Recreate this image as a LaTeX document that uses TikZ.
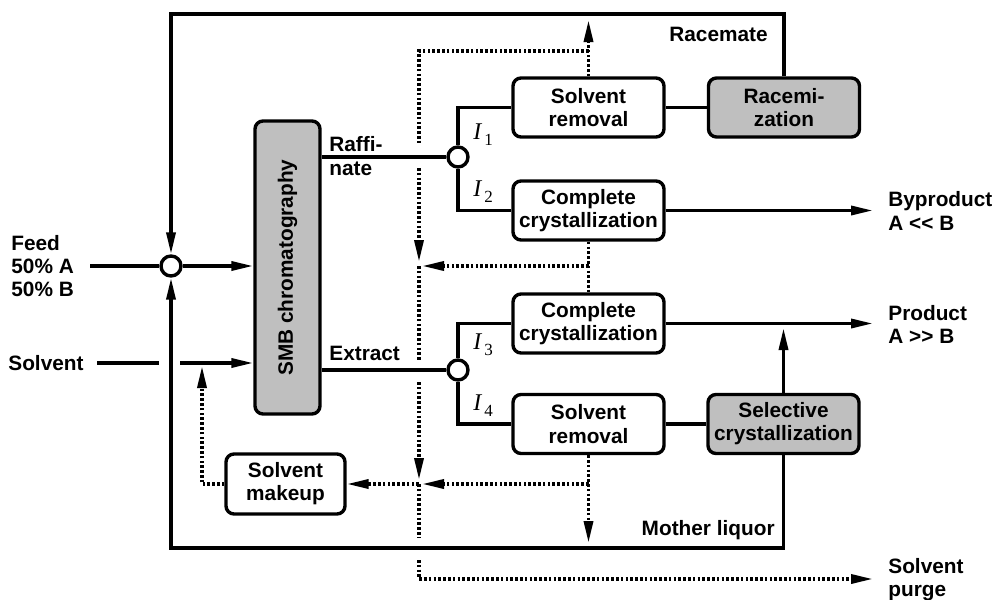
\documentclass[tikz,border=0pt]{standalone}
\usepackage{fontspec}
\setmainfont{Liberation Sans}
\newfontfamily\idxfont{Liberation Serif}
\usetikzlibrary{arrows.meta}

\definecolor{unitgray}{gray}{0.75}

\newcommand{\intn}[1]{{\idxfont\mdseries\itshape\fontsize{12}{12}\selectfont I}\kern1.5pt\raisebox{-3pt}{\idxfont\mdseries\fontsize{8.5}{9}\selectfont #1}}

\tikzset{
	unit/.style={draw, line width=1.7pt, rounded corners=4pt, align=center, fill=white,
		minimum width=75.5pt, minimum height=29.5pt, inner sep=1pt},
	active/.style={unit, fill=unitgray},
	split/.style={draw, circle, line width=1.7pt, fill=white, minimum size=10pt, inner sep=0pt},
	stream/.style={line width=1.7pt},
	solv/.style={line width=1.7pt, dash pattern=on 1.3pt off 1.1pt},
	tag/.style={inner sep=0pt, align=left}
}

\begin{document}
\begin{tikzpicture}[x=0.5pt, y=-0.5pt,
	>={Triangle[length=11pt,width=4.5pt]},
	every node/.style={font=\fontsize{10.4}{11.6}\selectfont\bfseries}]
	\useasboundingbox (0,0) rectangle (992,600);

	% process units
	\node [active, minimum width=32.5pt, minimum height=146.5pt] (smb) at (287.5,267.5)
		{\rotatebox{90}{SMB chromatography}};
	\node [unit] (rem1) at (588.5,107.5) {Solvent\\removal};
	\node [active] (racem) at (784,107.5) {Racemi-\\zation};
	\node [unit] (cryst1) at (588.5,210.5) {Complete\\crystallization};
	\node [unit] (cryst2) at (588.5,323.5) {Complete\\crystallization};
	\node [unit] (rem2) at (588.5,424) {Solvent\\removal};
	\node [active] (selcryst) at (783.5,424) {Selective\\crystallization};
	\node [unit, minimum width=59.5pt, minimum height=30pt] (makeup) at (285.5,484)
		{Solvent\\makeup};

	\node [split] (mix) at (171,266) {};
	\node [split] (raffsplit) at (458,157) {};
	\node [split] (extrsplit) at (458,370) {};

	% labels
	\node [tag, anchor=west] (feed) at (11,266) {Feed\\50\% A\\50\% B};
	\node [tag, anchor=west] (solvent) at (8,363) {Solvent};
	\node [tag, anchor=west] (raff) at (329,156) {Raffi-\\nate};
	\node [tag, anchor=west] (extract) at (329,353) {Extract};
	\node [tag] (racemate) at (718.5,34) {Racemate};
	\node [tag, anchor=east] (liquor) at (775,530) {Mother liquor};
	\node [tag, anchor=west] (byprod) at (888,211) {Byproduct\\A <\kern0pt< B};
	\node [tag, anchor=west] (prod) at (888,324.5) {Product\\A >\kern0pt> B};
	\node [tag, anchor=west] (purge) at (888,580) {Solvent\\purge};

	\node [inner sep=0pt, anchor=west] (i1) at (473,135) {\intn{1}};
	\node [inner sep=0pt, anchor=west] (i2) at (473,192) {\intn{2}};
	\node [inner sep=0pt, anchor=west] (i3) at (473,345) {\intn{3}};
	\node [inner sep=0pt, anchor=west] (i4) at (473,406) {\intn{4}};

	\coordinate (top) at (0,14);
	\coordinate (bottom) at (0,548);
	\coordinate (feedin) at (90,266);
	\coordinate (solvin) at (97,363);
	\coordinate (solvgap1) at (159,363);
	\coordinate (solvgap2) at (180,363);
	\coordinate (byout) at (873,210.5);
	\coordinate (prodout) at (873,323.5);
	\coordinate (prodin) at (783.5,328);

	\coordinate (solvup) at (588.5,20);
	\coordinate (solvturn) at (419,51);
	\coordinate (cross1a) at (419,145);
	\coordinate (cross1b) at (419,168);
	\coordinate (join1) at (419,266);
	\coordinate (cross2a) at (419,360);
	\coordinate (cross2b) at (419,382);
	\coordinate (join2) at (419,484);
	\coordinate (cross3a) at (419,537);
	\coordinate (cross3b) at (419,560);
	\coordinate (purgeout) at (873,579);
	\coordinate (makeupin) at (202,366);

	% solid streams
	\draw
		[stream, ->] (racem.north) -- (racem.north |- top) -| (mix.north);

	\draw
		[stream, ->] (selcryst.south) -- (selcryst.south |- bottom) -| (mix.south);

	\draw
		[stream] (feedin) -- (mix.west);

	\draw
		[stream, ->] (mix.east) -- (smb.west |- mix);

	\draw
		[stream] (solvin) -- (solvgap1);

	\draw
		[stream, ->] (solvgap2) -- (smb.west |- solvgap2);

	\draw
		[stream] (smb.east |- raffsplit) -- (raffsplit.west);

	\draw
		[stream] (smb.east |- extrsplit) -- (extrsplit.west);

	\draw [stream] (raffsplit.north) |- (rem1.west);
	\draw [stream] (raffsplit.south) |- (cryst1.west);
	\draw [stream] (extrsplit.north) |- (cryst2.west);
	\draw [stream] (extrsplit.south) |- (rem2.west);
	\draw [stream] (rem1) -- (racem);
	\draw [stream] (rem2) -- (selcryst);

	\draw
		[stream, ->] (cryst1.east) -- (byout);

	\draw
		[stream, ->] (cryst2.east) -- (prodout);

	\draw
		[stream, ->] (selcryst.north) -- (prodin);

	% solvent streams
	\draw
		[solv, ->] (rem1.north) -- (solvup);

	\draw
		[solv] (rem1.north |- solvturn) -- (solvturn) -- (cross1a);

	\draw
		[solv, ->, shorten >=2pt] (cross1b) -- (join1);

	\draw
		[solv, ->, shorten >=1.5pt] (cryst1.south |- join1) -- (join1);

	\draw
		[solv] (cryst1.south) -- (cryst2.north);

	\draw
		[solv] (join1) -- (cross2a);

	\draw
		[solv, ->, shorten >=2pt] (cross2b) -- (join2);

	\draw
		[solv, ->, shorten >=1.5pt] (rem2.south |- join2) -- (join2);

	\draw
		[solv, ->, shorten >=2.5pt] (rem2.south) -- (rem2.south |- bottom);

	\draw
		[solv, ->] (join2) -- (makeup.east);

	\draw
		[solv, ->] (makeup.west) -| (makeupin);

	\draw
		[solv] (join2) -- (cross3a);

	\draw
		[solv, ->] (cross3b) |- (purgeout);
\end{tikzpicture}
\end{document}
